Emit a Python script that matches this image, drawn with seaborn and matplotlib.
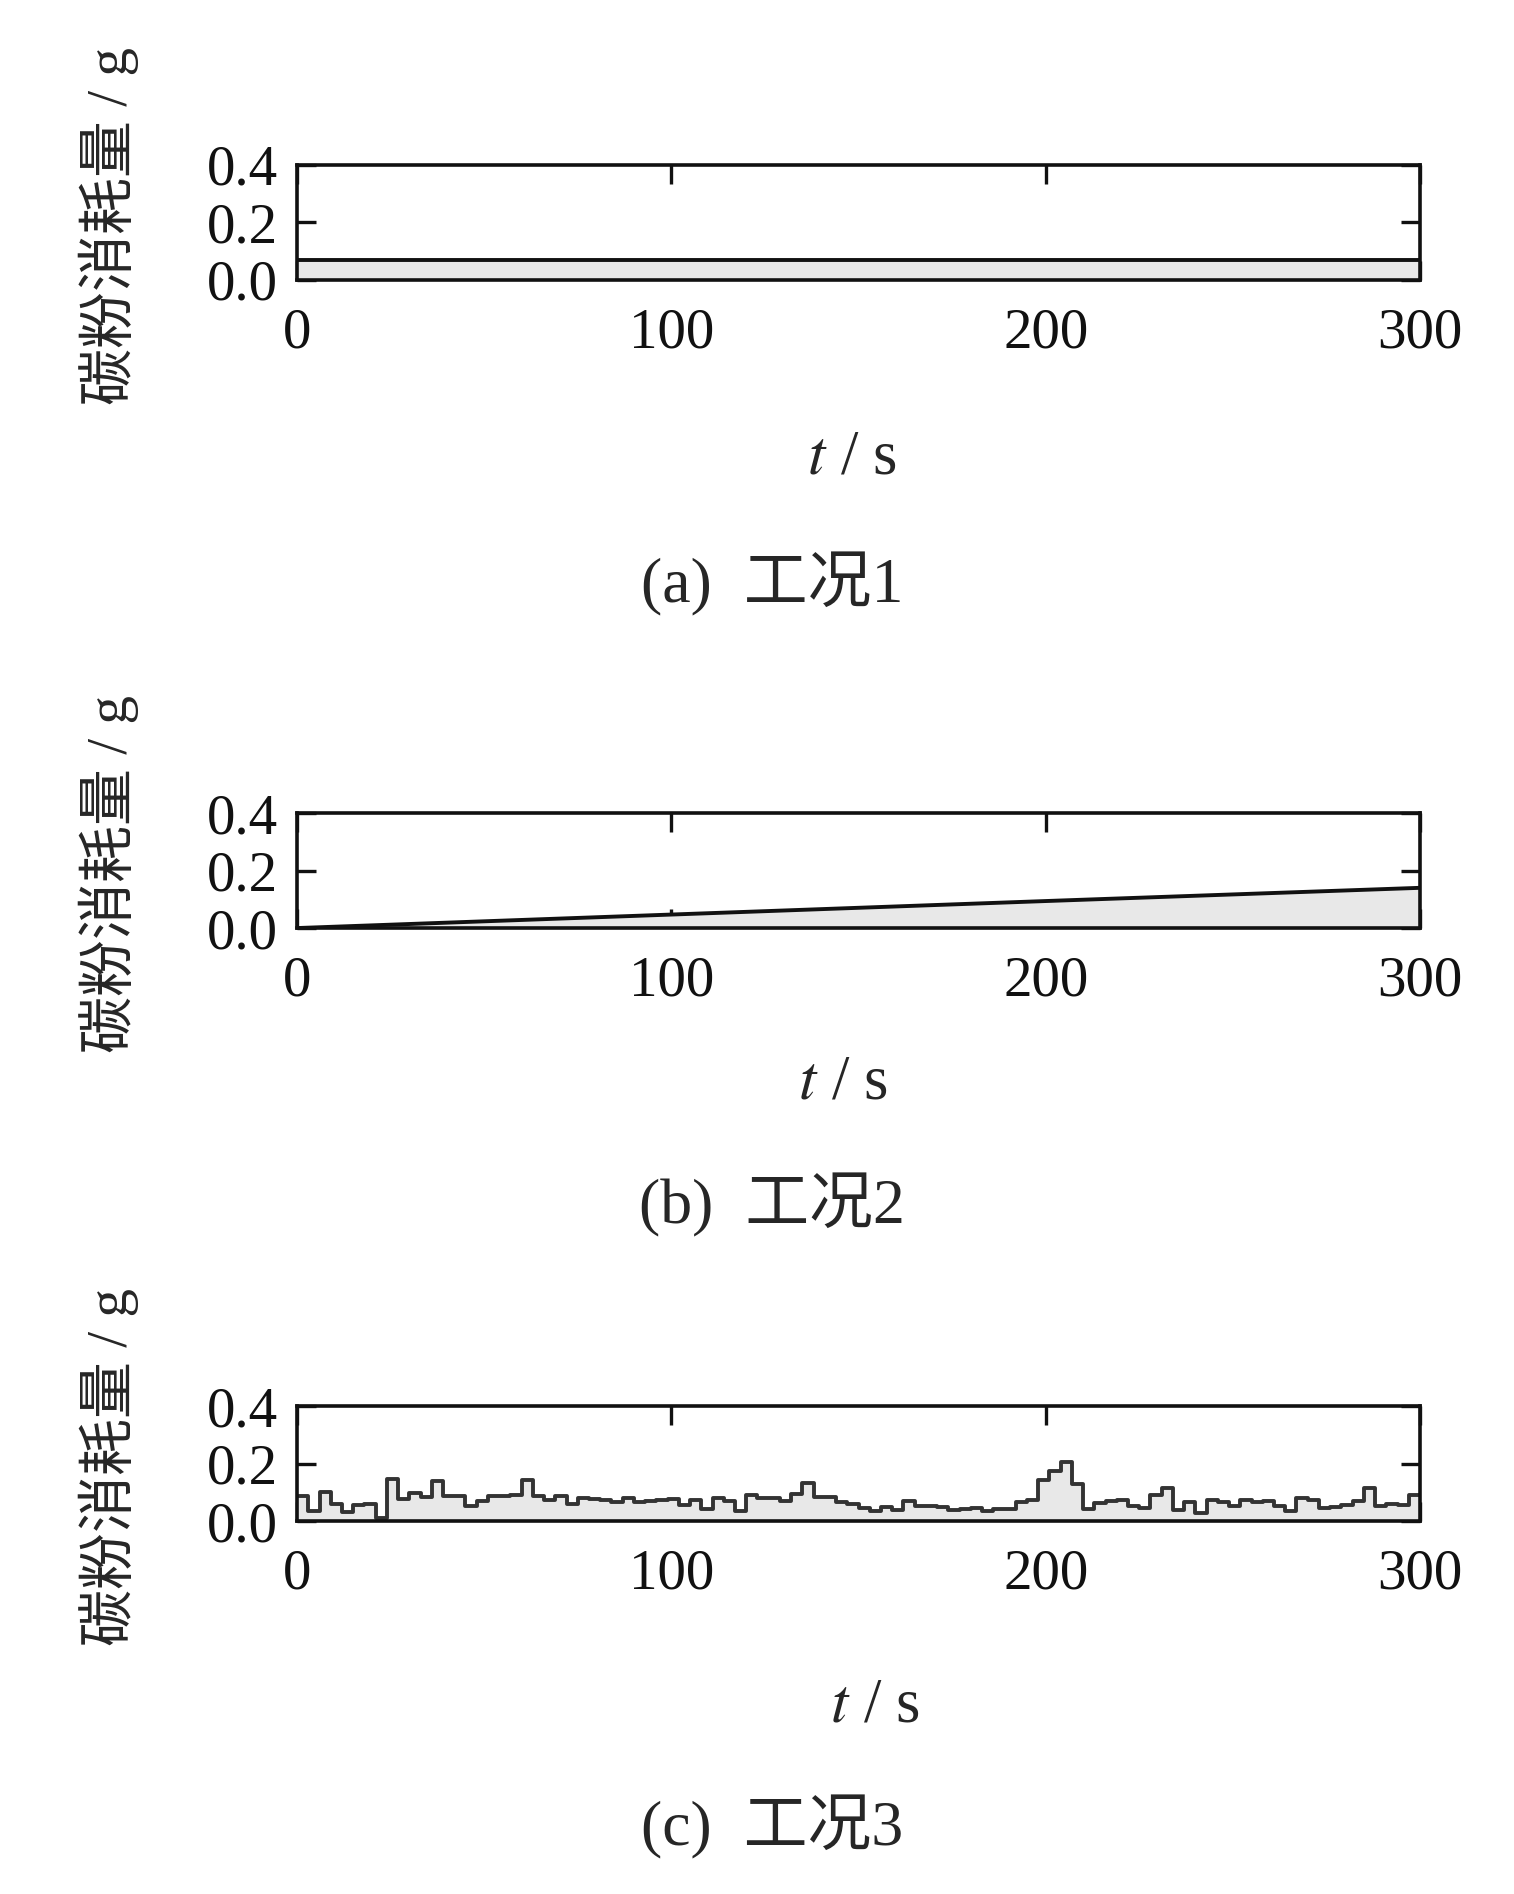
import numpy as np
import pandas as pd
import matplotlib
matplotlib.use("Agg")
import matplotlib.pyplot as plt
import seaborn as sns

# carbon powder use, condition 1: constant level (g)
cond1_t = [0, 300]
cond1_g = [0.07, 0.07]

# condition 2: slowly rising
cond2_t = [0, 100, 200, 300]
cond2_g = [0.0, 0.047, 0.094, 0.14]

# condition 3: per-3s step values (g)
step_width = 3
cond3_g = [
    0.087, 0.035, 0.102, 0.059, 0.031, 0.055, 0.059, 0.011, 0.147, 0.076,
    0.096, 0.084, 0.140, 0.087, 0.087, 0.051, 0.069, 0.087, 0.087, 0.091,
    0.144, 0.087, 0.075, 0.087, 0.058, 0.082, 0.076, 0.072, 0.065, 0.079,
    0.066, 0.071, 0.075, 0.078, 0.055, 0.073, 0.041, 0.079, 0.069, 0.035,
    0.089, 0.080, 0.082, 0.069, 0.093, 0.132, 0.084, 0.084, 0.065, 0.058,
    0.046, 0.034, 0.049, 0.038, 0.069, 0.051, 0.054, 0.049, 0.038, 0.041,
    0.047, 0.034, 0.041, 0.041, 0.065, 0.073, 0.144, 0.175, 0.205, 0.129,
    0.041, 0.064, 0.071, 0.075, 0.052, 0.047, 0.091, 0.116, 0.038, 0.067,
    0.028, 0.073, 0.065, 0.052, 0.073, 0.067, 0.069, 0.052, 0.034, 0.079,
    0.073, 0.046, 0.049, 0.055, 0.071, 0.114, 0.053, 0.059, 0.055, 0.089,
]

captions = ["(a)  工况1", "(b)  工况2", "(c)  工况3"]
ylabel = "碳粉消耗量 / g"
xlabel = "$t$ / s"
xticks = [0, 100, 200, 300]
yticks = [0.0, 0.2, 0.4]

sns.set_style("ticks")
plt.rcParams["font.family"] = ["Liberation Serif", "Noto Sans CJK SC"]
plt.rcParams["mathtext.fontset"] = "stix"

fig = plt.figure(figsize=(15.14, 18.94), dpi=100)

left, width, height = 0.1962, 0.7417, 0.0607
bottoms = [0.8522, 0.5100, 0.1969]
xlab_x = [0.494, 0.486, 0.515]
xlab_y = [-1.30, -1.10, -1.36]
cap_y = [0.6917, 0.3638, 0.0354]
cap_x = [0.51, 0.51, 0.51]

df1 = pd.DataFrame({"t": cond1_t, "g": cond1_g})
df2 = pd.DataFrame({"t": cond2_t, "g": cond2_g})
t3 = np.arange(len(cond3_g) + 1) * step_width
df3 = pd.DataFrame({"t": t3, "g": cond3_g + [cond3_g[-1]]})

frames = [df1, df2, df3]
line_cols = ["#111111", "#111111", "#333333"]

for i, df in enumerate(frames):
    ax = fig.add_axes([left, bottoms[i], width, height])
    if i == 2:
        ax.fill_between(df["t"], df["g"], step="post", color="#e8e8e8", lw=0)
        sns.lineplot(data=df, x="t", y="g", ax=ax, color=line_cols[i],
                     drawstyle="steps-post", lw=2.8)
    else:
        ax.fill_between(df["t"], df["g"], color="#e8e8e8", lw=0)
        sns.lineplot(data=df, x="t", y="g", ax=ax, color=line_cols[i], lw=2.8)

    ax.set_xlim(0, 300)
    ax.set_ylim(0, 0.4)
    ax.set_xticks(xticks)
    ax.set_yticks(yticks)
    ax.set_yticklabels(["0.0", "0.2", "0.4"])
    ax.tick_params(direction="in", length=14, width=2.4, labelsize=41,
                   top=True, right=True, colors="#111111")
    ax.tick_params(axis="x", pad=20)
    ax.tick_params(axis="y", pad=14)
    for sp in ax.spines.values():
        sp.set_linewidth(2.6)
        sp.set_color("#111111")

    ax.set_xlabel(xlabel, fontsize=45)
    ax.xaxis.set_label_coords(xlab_x[i], xlab_y[i])
    ax.set_ylabel(ylabel, fontsize=41)
    ax.yaxis.set_label_coords(-0.141, 0.47)

    fig.text(cap_x[i], cap_y[i], captions[i], fontsize=46, ha="center", va="center")

fig.savefig("out.png", dpi=100, facecolor="white")
